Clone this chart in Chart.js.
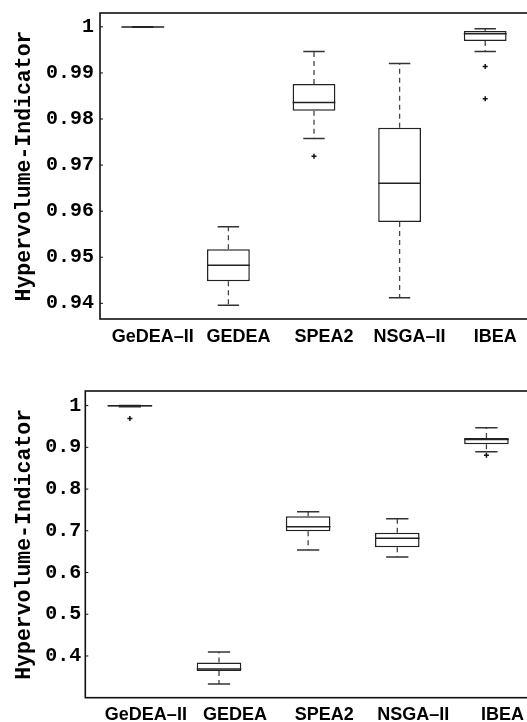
<!DOCTYPE html>
<html>
<head>
<meta charset="utf-8">
<script src="https://cdn.jsdelivr.net/npm/chart.js@4.4.1/dist/chart.umd.min.js"></script>
<style>
  html, body { margin: 0; padding: 0; background: #fff; overflow: hidden; width: 527px; height: 722px; }
  #c1wrap { position: absolute; left: 0; top: 0; width: 528px; height: 360px; }
  #c2wrap { position: absolute; left: 0; top: 360px; width: 531px; height: 362px; }
</style>
</head>
<body>
<div id="c1wrap"><canvas id="c1"></canvas></div>
<div id="c2wrap"><canvas id="c2"></canvas></div>
<script>
// ---------- data ----------
const categories = ['GeDEA–II', 'GEDEA', 'SPEA2', 'NSGA–II', 'IBEA'];

// top chart
const topLowWhisker  = [0.99993, 0.93957, 0.97579, 0.94121, 0.99466];
const topQ1          = [0.99995, 0.94477, 0.98178, 0.95763, 0.99690];
const topMedian      = [0.99998, 0.94824, 0.98360, 0.96603, 0.99848];
const topQ3          = [1.00000, 0.95171, 0.98757, 0.97809, 0.99907];
const topHighWhisker = [1.00000, 0.95662, 0.99466, 0.99206, 0.99957];
const topOutliers    = [
  { cat: 'SPEA2', v: 0.97189 },
  { cat: 'IBEA',  v: 0.99141 },
  { cat: 'IBEA',  v: 0.98438 }
];
const topTicks = [0.94, 0.95, 0.96, 0.97, 0.98, 0.99, 1];

// bottom chart
const botLowWhisker  = [0.9970, 0.3326, 0.6540, 0.6372, 0.8897];
const botQ1          = [0.9980, 0.3638, 0.6988, 0.6604, 0.9074];
const botMedian      = [0.9995, 0.3686, 0.7099, 0.6820, 0.9185];
const botQ3          = [1.0000, 0.3846, 0.7347, 0.6955, 0.9225];
const botHighWhisker = [1.0000, 0.4094, 0.7458, 0.7290, 0.9472];
const botOutliers    = [
  { cat: 'GeDEA–II', v: 0.9688 },
  { cat: 'IBEA',     v: 0.8810 }
];
const botTicks = [0.4, 0.5, 0.6, 0.7, 0.8, 0.9, 1];

// ---------- helpers ----------
const boxPlugin = {
  id: 'boxParts',
  afterDatasetsDraw(chart, args, opts) {
    const ctx = chart.ctx;
    const xs = chart.scales.x, ys = chart.scales.y;
    const catW = xs.width / categories.length;
    const capHalf = catW * 0.125;
    const boxHalf = catW * 0.25;
    ctx.save();
    for (let i = 0; i < categories.length; i++) {
      const x = xs.getPixelForValue(i);
      const yLo = ys.getPixelForValue(opts.low[i]);
      const yQ1 = ys.getPixelForValue(opts.q1[i]);
      const yMed = ys.getPixelForValue(opts.med[i]);
      const yQ3 = ys.getPixelForValue(opts.q3[i]);
      const yHi = ys.getPixelForValue(opts.high[i]);
      ctx.strokeStyle = '#444';
      ctx.lineWidth = 1.3;
      ctx.setLineDash([5, 4]);
      ctx.beginPath();
      ctx.moveTo(x, yQ3); ctx.lineTo(x, yHi);
      ctx.moveTo(x, yQ1); ctx.lineTo(x, yLo);
      ctx.stroke();
      ctx.setLineDash([]);
      ctx.strokeStyle = '#333';
      ctx.lineWidth = 1.5;
      ctx.beginPath();
      ctx.moveTo(x - capHalf, yHi); ctx.lineTo(x + capHalf, yHi);
      ctx.moveTo(x - capHalf, yLo); ctx.lineTo(x + capHalf, yLo);
      ctx.stroke();
      ctx.strokeStyle = '#222';
      ctx.lineWidth = 1.5;
      ctx.beginPath();
      ctx.moveTo(x - boxHalf, yMed); ctx.lineTo(x + boxHalf, yMed);
      ctx.stroke();
    }
    ctx.restore();
  },
  afterDraw(chart) {
    const ctx = chart.ctx, a = chart.chartArea;
    const ys = chart.scales.y;
    ctx.save();
    ctx.strokeStyle = '#111';
    ctx.lineWidth = 1.6;
    ctx.strokeRect(a.left, a.top, a.right - a.left, a.bottom - a.top);
    ctx.lineWidth = 1;
    ctx.beginPath();
    ys.ticks.forEach(t => {
      const y = ys.getPixelForValue(t.value);
      ctx.moveTo(a.left, y); ctx.lineTo(a.left + 3, y);
    });
    ctx.stroke();
    ctx.restore();
  }
};

function zeroPad(scale) {
  scale.paddingLeft = 0; scale.paddingRight = 0;
  scale.paddingTop = 0; scale.paddingBottom = 0;
}

function makeChart(id, cfg) {
  const boxes = categories.map((c, i) => [cfg.q1[i], cfg.q3[i]]);
  const outs = cfg.outliers.map(o => ({ x: o.cat, y: o.v }));
  return new Chart(document.getElementById(id), {
    type: 'bar',
    data: {
      labels: categories,
      datasets: [
        {
          type: 'bar',
          data: boxes,
          backgroundColor: '#ffffff',
          borderColor: '#222',
          borderWidth: 1.5,
          borderSkipped: false,
          categoryPercentage: 1,
          barPercentage: 0.5,
          order: 2
        },
        {
          type: 'scatter',
          data: outs,
          showLine: false,
          pointStyle: 'cross',
          pointRadius: 2.5,
          borderColor: '#111',
          backgroundColor: '#111',
          borderWidth: 1.5,
          order: 1
        }
      ]
    },
    options: {
      responsive: true,
      maintainAspectRatio: false,
      animation: false,
      layout: { autoPadding: false, padding: { top: cfg.padTop, left: 0, right: 0, bottom: 0 } },
      plugins: {
        legend: { display: false },
        tooltip: { enabled: false },
        boxParts: { low: cfg.low, q1: cfg.q1, med: cfg.med, q3: cfg.q3, high: cfg.high }
      },
      scales: {
        x: {
          type: 'category',
          offset: true,
          grid: { display: false, drawTicks: false, tickLength: 0 },
          border: { display: false },
          ticks: {
            autoSkip: false,
            maxRotation: 0,
            padding: cfg.xPad,
            labelOffset: cfg.labelOffset,
            color: '#000',
            font: { family: 'Liberation Sans', weight: 'bold', size: 18 }
          },
          afterFit(scale) { scale.height = cfg.xHeight; zeroPad(scale); }
        },
        y: {
          min: cfg.min,
          max: cfg.max,
          grid: { display: false, drawTicks: false, tickLength: 0 },
          border: { display: false },
          afterBuildTicks(scale) { scale.ticks = cfg.ticks.map(v => ({ value: v })); },
          ticks: {
            padding: cfg.yPad,
            color: '#000',
            font: { family: 'Liberation Mono', weight: 'bold', size: 20 },
            callback: v => (Math.abs(v - 1) < 1e-9 ? '1' : v.toFixed(cfg.decimals))
          },
          title: {
            display: true,
            text: 'Hypervolume-Indicator',
            color: '#000',
            padding: { top: 12, bottom: 0 },
            font: { family: 'Liberation Mono', weight: 'bold', size: 21.5 }
          },
          afterFit(scale) { scale.width = cfg.yWidth; zeroPad(scale); }
        }
      }
    },
    plugins: [boxPlugin]
  });
}

makeChart('c1', {
  low: topLowWhisker, q1: topQ1, med: topMedian, q3: topQ3, high: topHighWhisker,
  outliers: topOutliers, ticks: topTicks, decimals: 2,
  min: 0.9366, max: 1.003, padTop: 13, xHeight: 41, yWidth: 100,
  xPad: 7, yPad: 6, labelOffset: 10
});

makeChart('c2', {
  low: botLowWhisker, q1: botQ1, med: botMedian, q3: botQ3, high: botHighWhisker,
  outliers: botOutliers, ticks: botTicks, decimals: 1,
  min: 0.3, max: 1.035, padTop: 31, xHeight: 24.3, yWidth: 85.3,
  xPad: 7, yPad: 4, labelOffset: 16
});
</script>
</body>
</html>
